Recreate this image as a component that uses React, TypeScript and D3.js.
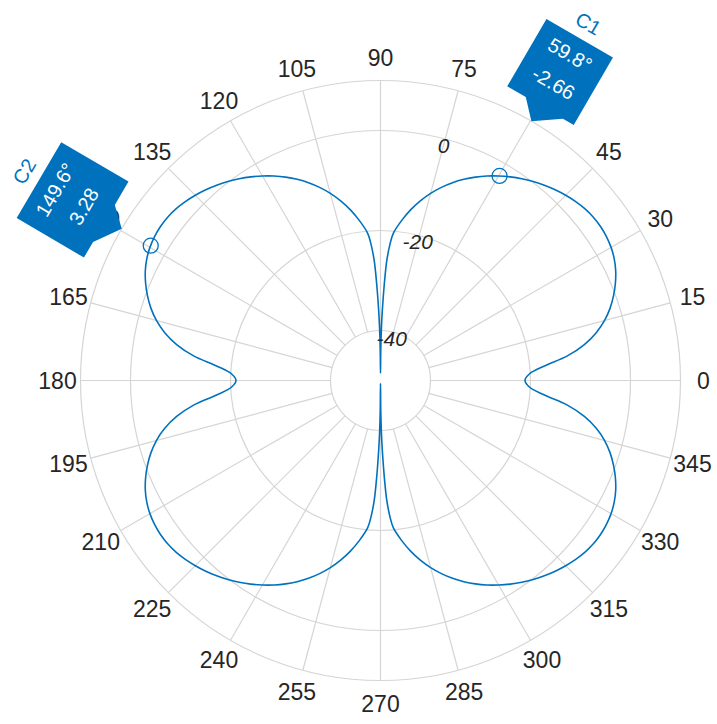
import React from "react";
import * as d3 from "d3";

// ---- Data (angle in degrees, magnitude in dB) ----
const q1Angles = [0, 2.5, 5, 7.5, 10, 12.5, 15, 17.5, 20, 22.5, 25, 27.5, 30, 32.5, 35, 37.5, 40, 42.5, 45, 47.5, 50, 52.5, 55, 57.5, 60, 62.5, 65, 67.5, 70, 72.5, 75, 77.5, 80, 82.5, 85, 86, 87, 87.5, 88, 88.5, 89, 89.5, 90];
const q1Values = [-21.1, -20.2, -17.2, -12.3, -8.6, -5.8, -3.6, -1.85, -0.4, 0.85, 1.9, 2.7, 3.25, 3.58, 3.72, 3.66, 3.4, 2.95, 2.38, 1.72, 0.98, 0.16, -0.74, -1.72, -2.78, -3.9, -5.12, -6.45, -7.9, -9.5, -11.25, -13.2, -15.35, -17.75, -20.4, -22.6, -26.0, -29.0, -32.5, -36.0, -39.5, -44.0, -48.5];

const q2Angles = [90.5, 91, 91.5, 92, 92.5, 93, 94, 95, 97.5, 100, 102.5, 105, 107.5, 110, 112.5, 115, 117.5, 120, 122.5, 125, 127.5, 130, 132.5, 135, 137.5, 140, 142.5, 145, 147.5, 150, 152.5, 155, 157.5, 160, 162.5, 165, 167.5, 170, 172.5, 175, 177.5, 180];
const q2Values = [-44.0, -39.5, -36.0, -32.5, -29.0, -26.0, -22.6, -20.4, -17.75, -15.35, -13.2, -11.25, -9.5, -7.9, -6.45, -5.12, -3.9, -2.78, -1.72, -0.74, 0.16, 0.98, 1.72, 2.38, 2.95, 3.4, 3.66, 3.72, 3.58, 3.25, 2.7, 1.9, 0.85, -0.4, -1.85, -3.6, -5.8, -8.6, -12.3, -17.2, -20.2, -21.1];

const q3Angles = [182.5, 185, 187.5, 190, 192.5, 195, 197.5, 200, 202.5, 205, 207.5, 210, 212.5, 215, 217.5, 220, 222.5, 225, 227.5, 230, 232.5, 235, 237.5, 240, 242.5, 245, 247.5, 250, 252.5, 255, 257.5, 260, 262.5, 265, 266, 267, 267.5, 268, 268.5, 269, 269.5, 270];
const q3Values = [-20.2, -17.2, -12.3, -8.6, -5.8, -3.6, -1.85, -0.4, 0.85, 1.9, 2.7, 3.25, 3.58, 3.72, 3.66, 3.4, 2.95, 2.38, 1.72, 0.98, 0.16, -0.74, -1.72, -2.78, -3.9, -5.12, -6.45, -7.9, -9.5, -11.25, -13.2, -15.35, -17.75, -20.4, -22.6, -26.0, -29.0, -32.5, -36.0, -39.5, -44.0, -49.4];

const q4Angles = [270.5, 271, 271.5, 272, 272.5, 273, 274, 275, 277.5, 280, 282.5, 285, 287.5, 290, 292.5, 295, 297.5, 300, 302.5, 305, 307.5, 310, 312.5, 315, 317.5, 320, 322.5, 325, 327.5, 330, 332.5, 335, 337.5, 340, 342.5, 345, 347.5, 350, 352.5, 355, 357.5];
const q4Values = [-44.0, -39.5, -36.0, -32.5, -29.0, -26.0, -22.6, -20.4, -17.75, -15.35, -13.2, -11.25, -9.5, -7.9, -6.45, -5.12, -3.9, -2.78, -1.72, -0.74, 0.16, 0.98, 1.72, 2.38, 2.95, 3.4, 3.66, 3.72, 3.58, 3.25, 2.7, 1.9, 0.85, -0.4, -1.85, -3.6, -5.8, -8.6, -12.3, -17.2, -20.2];

const angleTicks = d3.range(0, 360, 15);
const magnitudeRings = [-40, -20, 0];
const magnitudeLimits = [-50, 10];

const markerNames = ["C1", "C2"];
const markerAngles = [59.8, 149.6];
const markerValues = [-2.66, 3.28];
const markerAngleText = ["59.8°", "149.6°"];
const markerValueText = ["-2.66", "3.28"];

// ---- Layout ----
const W = 717;
const H = 724;
const CX = 380.5;
const CY = 380.5;
const R_OUT = 300;
const BLUE = "#0072BD";
const GRID = "#d5d5d5";
const TXT = "#262626";
const FONT = "'Liberation Sans', Arial, Helvetica, sans-serif";

const rScale = d3.scaleLinear().domain(magnitudeLimits).range([0, R_OUT]).clamp(true);
const rad = (deg: number) => (deg * Math.PI) / 180;
const px = (deg: number, r: number) => CX + r * Math.cos(rad(deg));
const py = (deg: number, r: number) => CY - r * Math.sin(rad(deg));

const charW: Record<string, number> = { ".": 0.278, "°": 0.4, "-": 0.333 };
const textWidth = (s: string, fs: number) =>
  s.split("").reduce((acc, c) => acc + (charW[c] ?? 0.556), 0) * fs;

export default function App() {
  const allAngles = [...q1Angles, ...q2Angles, ...q3Angles, ...q4Angles];
  const allValues = [...q1Values, ...q2Values, ...q3Values, ...q4Values];
  const pts: [number, number][] = allAngles.map((a, i) => [a, allValues[i]]);

  const line = d3
    .lineRadial<[number, number]>()
    .angle((d) => Math.PI / 2 - rad(d[0]))
    .radius((d) => rScale(d[1]))
    .curve(d3.curveCatmullRomClosed.alpha(0.5));

  const rInner = rScale(magnitudeRings[0]);
  const labelFs = 23;
  const tipFs = 20;

  return (
    <svg
      width={W}
      height={H}
      style={{ position: "absolute", left: 0, top: 0, background: "#fff" }}
      xmlns="http://www.w3.org/2000/svg"
    >
      <rect x={0} y={0} width={W} height={H} fill="#fff" />
      {/* rings */}
      {[...magnitudeRings, magnitudeLimits[1]].map((m) => (
        <circle key={m} cx={CX} cy={CY} r={rScale(m)} fill="none" stroke={GRID} strokeWidth={1.2} />
      ))}
      {/* spokes */}
      {angleTicks.map((a) => (
        <line
          key={a}
          x1={px(a, rInner)}
          y1={py(a, rInner)}
          x2={px(a, R_OUT)}
          y2={py(a, R_OUT)}
          stroke={GRID}
          strokeWidth={1.2}
        />
      ))}
      {/* angle labels */}
      {angleTicks.map((a) => (
        <text
          key={a}
          x={px(a, 323)}
          y={py(a, 323)}
          fontFamily={FONT}
          fontSize={labelFs}
          fill={TXT}
          textAnchor="middle"
          dominantBaseline="central"
        >
          {a}
        </text>
      ))}
      {/* data */}
      <path d={line(pts) || ""} transform={`translate(${CX},${CY})`} fill="none" stroke={BLUE} strokeWidth={1.6} />
      {/* magnitude labels */}
      {magnitudeRings.map((m) => (
        <text
          key={m}
          x={px(75, rScale(m) - 6.5)}
          y={py(75, rScale(m) - 6.5)}
          fontFamily={FONT}
          fontSize={21}
          fontStyle="italic"
          fill={TXT}
          textAnchor="middle"
          dominantBaseline="central"
        >
          {m}
        </text>
      ))}
      {/* markers */}
      {markerAngles.map((a, i) => (
        <circle
          key={i}
          cx={px(a, rScale(markerValues[i]))}
          cy={py(a, rScale(markerValues[i]))}
          r={7.5}
          fill="none"
          stroke={BLUE}
          strokeWidth={1.3}
        />
      ))}
      {/* data tips */}
      {markerAngles.map((a, i) => {
        const tw = Math.max(textWidth(markerAngleText[i], tipFs), textWidth(markerValueText[i], tipFs));
        const hw = (tw + 30) / 2;
        const steep = a > 90 ? 1 : -1;
        const bot = 18;
        const top = 96;
        const rightPt = steep > 0 ? 17 : 26;
        const leftPt = steep > 0 ? -26 : -17;
        const poly: [number, number][] = [
          [-hw, top],
          [hw, top],
          [hw, bot],
          [rightPt, bot],
          [0, 0],
          [leftPt, bot],
          [-hw, bot],
        ];
        const rot = 90 - a;
        return (
          <g key={i} transform={`translate(${px(a, R_OUT)},${py(a, R_OUT)}) rotate(${rot})`}>
            <polygon points={poly.map(([u, v]) => `${u},${-v}`).join(" ")} fill={BLUE} />
            <text x={0} y={-77} fontFamily={FONT} fontSize={tipFs} fill="#fff" textAnchor="middle" dominantBaseline="central">
              {markerAngleText[i]}
            </text>
            <text x={0} y={-44} fontFamily={FONT} fontSize={tipFs} fill="#fff" textAnchor="middle" dominantBaseline="central">
              {markerValueText[i]}
            </text>
            <text x={0} y={-113} fontFamily={FONT} fontSize={tipFs} fill={BLUE} textAnchor="middle" dominantBaseline="central">
              {markerNames[i]}
            </text>
          </g>
        );
      })}
    </svg>
  );
}
